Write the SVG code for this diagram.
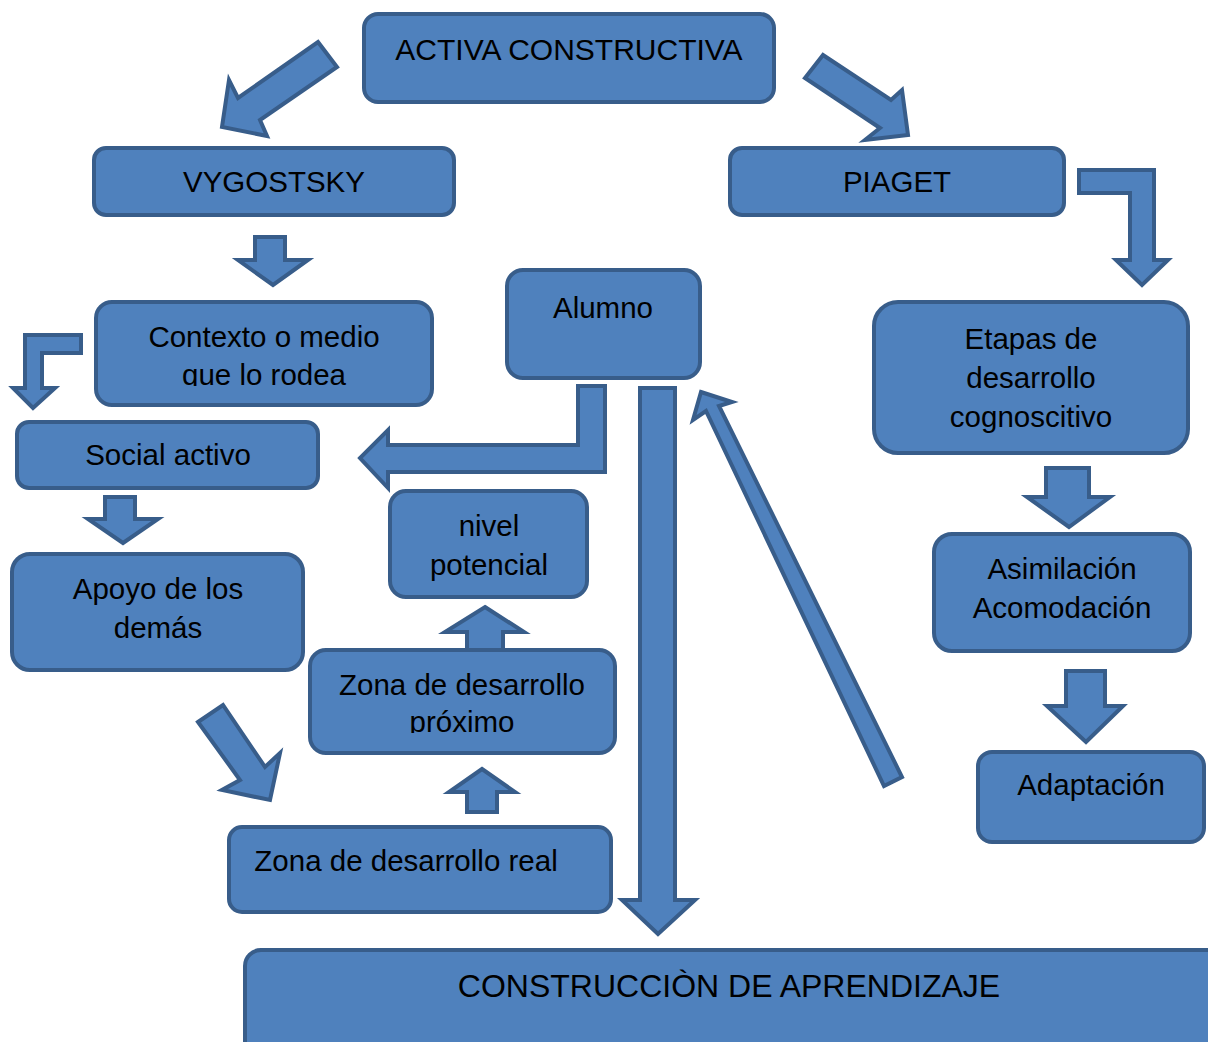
<svg xmlns="http://www.w3.org/2000/svg" width="1208" height="1042" viewBox="0 0 1208 1042">
<style>
.box{fill:#4F81BD;stroke:#385D8A;stroke-width:4}
.arr{fill:#4F81BD;stroke:#385D8A;stroke-width:4;stroke-linejoin:miter}
.t{font-family:"Liberation Sans",Arial,sans-serif;font-size:29.5px;fill:#000;text-anchor:middle}
.big{font-size:32px}
.ac{font-size:30px}
</style>
<defs>
<clipPath id="clipCtx"><rect x="96" y="300" width="340" height="86"/></clipPath>
<clipPath id="clipZdp"><rect x="300" y="640" width="320" height="93"/></clipPath>
</defs>
<rect width="1208" height="1042" fill="#fff"/>
<g id="connectors">
<polygon class="arr" points="318,42 337,67 260,120 267,136 222,127 229,80 238,98"/>
<polygon class="arr" points="823,55 805,78 880,128 865,140 908,135 902,90 891,100"/>
<polygon class="arr" points="1079,170 1154,170 1154,260 1168,260 1142,285 1116,260 1130,260 1130,193 1079,193"/>
<polygon class="arr" points="255,237 285,237 285,260 308,260 273,285 238,260 255,260"/>
<polygon class="arr" points="81,335 81,353 42,353 42,388 55,388 33,408 13,388 25,388 25,335"/>
<polygon class="arr" points="605,386 605,472 388,472 388,488 360,458 388,430 388,445 578,445 578,386"/>
<polygon class="arr" points="105,497 135,497 135,519 158,519 123,543 88,519 105,519"/>
<polygon class="arr" points="198,722 223,705 265,767 280,753 270,800 222,790 240,780"/>
<polygon class="arr" points="485,607 524,632 503,632 503,652 467,652 467,632 445,632"/>
<polygon class="arr" points="482,769 515,792 497,792 497,812 467,812 467,792 449,792"/>
<polygon class="arr" points="640,388 675,388 675,900 695,900 658,934 622,900 640,900"/>
<polygon class="arr" points="701,392 732,402 719,406 902,777 884,786 706,411 693,420"/>
<polygon class="arr" points="1046,468 1089,468 1089,497 1110,497 1069,527 1027,497 1046,497"/>
<polygon class="arr" points="1066,671 1105,671 1105,706 1123,706 1086,742 1047,706 1066,706"/>
</g>
<g id="n-activa"><rect class="box" x="364" y="14" width="410" height="88" rx="14"/><text class="t ac" x="569" y="60">ACTIVA CONSTRUCTIVA</text></g>
<g id="n-vygostsky"><rect class="box" x="94" y="148" width="360" height="67" rx="12"/><text class="t" x="274" y="192">VYGOSTSKY</text></g>
<g id="n-piaget"><rect class="box" x="730" y="148" width="334" height="67" rx="12"/><text class="t" x="897" y="192">PIAGET</text></g>
<g id="n-contexto"><rect class="box" x="96" y="302" width="336" height="103" rx="16"/><g clip-path="url(#clipCtx)"><text class="t" x="264" y="347">Contexto o medio</text><text class="t" x="264" y="385">que lo rodea</text></g></g>
<g id="n-alumno"><rect class="box" x="507" y="270" width="193" height="108" rx="16"/><text class="t" x="603" y="318">Alumno</text></g>
<g id="n-etapas"><rect class="box" x="874" y="302" width="314" height="151" rx="24"/><text class="t" x="1031" y="349">Etapas de</text><text class="t" x="1031" y="388">desarrollo</text><text class="t" x="1031" y="427">cognoscitivo</text></g>
<g id="n-social"><rect class="box" x="17" y="422" width="301" height="66" rx="12"/><text class="t" x="168" y="465">Social activo</text></g>
<g id="n-nivel"><rect class="box" x="390" y="491" width="197" height="106" rx="16"/><text class="t" x="489" y="536">nivel</text><text class="t" x="489" y="575">potencial</text></g>
<g id="n-apoyo"><rect class="box" x="12" y="554" width="291" height="116" rx="18"/><text class="t" x="158" y="599">Apoyo de los</text><text class="t" x="158" y="638">demás</text></g>
<g id="n-asim"><rect class="box" x="934" y="534" width="256" height="117" rx="18"/><text class="t" x="1062" y="579">Asimilación</text><text class="t" x="1062" y="618">Acomodación</text></g>
<g id="n-zdp"><rect class="box" x="310" y="650" width="305" height="103" rx="16"/><g clip-path="url(#clipZdp)"><text class="t" x="462" y="695">Zona de desarrollo</text><text class="t" x="462" y="732">próximo</text></g></g>
<g id="n-adapt"><rect class="box" x="978" y="752" width="226" height="90" rx="14"/><text class="t" x="1091" y="795">Adaptación</text></g>
<g id="n-zreal"><rect class="box" x="229" y="827" width="382" height="85" rx="13"/><text class="t" x="406" y="871">Zona de desarrollo real</text></g>
<g id="n-construccion"><rect class="box" x="245" y="950" width="1000" height="150" rx="16"/><text class="t big" x="729" y="997">CONSTRUCCIÒN DE APRENDIZAJE</text></g>
</svg>
